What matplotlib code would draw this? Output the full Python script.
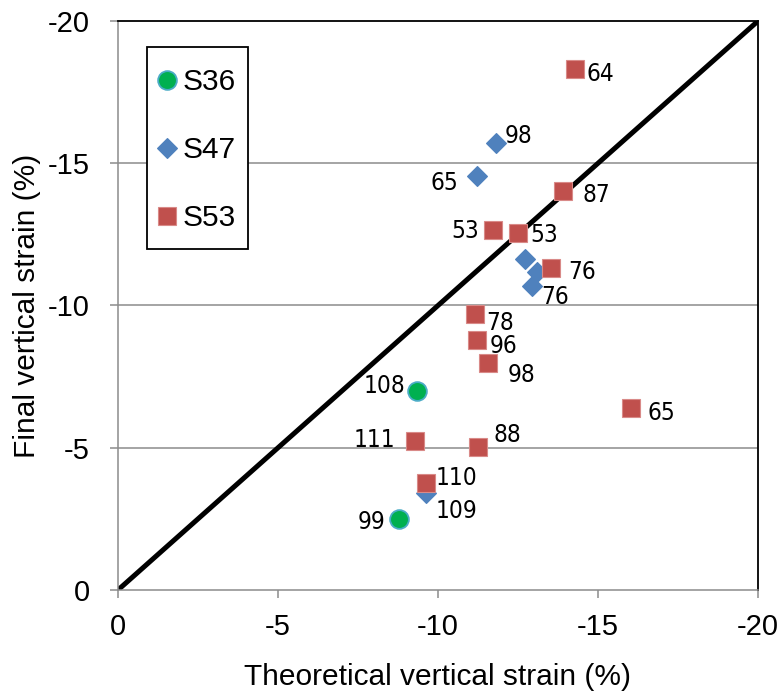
import matplotlib
matplotlib.use('Agg')
import matplotlib.pyplot as plt
from matplotlib.patches import Rectangle

plt.rcParams['font.family'] = ['Liberation Sans', 'DejaVu Sans']

# S36 samples
s36_x = [-9.33, -8.78]
s36_y = [-7.01, -2.48]
s36_lab = ['108', '99']

# S47 samples
s47_x = [-11.80, -11.21, -12.72, -13.08, -12.94, -9.62]
s47_y = [-15.72, -14.55, -11.62, -11.19, -10.69, -3.40]
s47_lab = ['98', '65', '', '', '76', '109']

# S53 samples
s53_x = [-14.28, -13.90, -11.73, -12.51, -13.52, -11.16, -11.21, -11.57, -16.03, -9.28, -11.26, -9.62]
s53_y = [-18.31, -14.04, -12.65, -12.56, -11.31, -9.70, -8.79, -7.99, -6.41, -5.24, -5.04, -3.77]
s53_lab = ['64', '87', '53', '53', '76', '78', '96', '98', '65', '111', '88', '110']

ticks = [0, -5, -10, -15, -20]

# label offsets in pixels (dx right, dy down) from marker to label centre
s36_off = [(-32, -6), (-27, 1)]
s47_off = [(23, -8), (-32, 5), (0, 0), (0, 0), (23, 9), (31, 16)]
s53_off = [(25, 3), (34, 3), (-28, -1), (26, 1), (31, 2), (25, 7), (27, 4), (33, 11),
           (30, 4), (-41, -3), (29, -13), (31, -6)]

W, H = 784, 697
L, B, AW, AH = 118, 107, 640, 569

fig = plt.figure(figsize=(W / 100, H / 100), dpi=100)
ax = fig.add_axes([L / W, B / H, AW / W, AH / H])

ax.set_xlim(0, -20)
ax.set_ylim(0, -20)
ax.set_xticks(ticks)
ax.set_yticks(ticks)
ax.set_xticklabels([str(t) for t in ticks])
ax.set_yticklabels([str(t) for t in ticks])

for y in [-5, -10, -15]:
    ax.axhline(y, color='#8c8c8c', lw=1.1, zorder=1)

ax.plot([0, -20], [0, -20], color='black', lw=3.6, zorder=2, solid_capstyle='butt')

ax.plot(s36_x, s36_y, 'o', ms=13.5, mfc='#00B050', mec='#4BACC6', mew=1.3, ls='none', label='S36', zorder=3)
ax.plot(s47_x, s47_y, 'D', ms=9.8, mfc='#4F81BD', mec='#4F81BD', mew=0.8, ls='none', label='S47', zorder=3)
ax.plot(s53_x, s53_y, 's', ms=13.5, mfc='#C0504D', mec='#D98A88', mew=0.8, ls='none', label='S53', zorder=4)

def put_labels(xs, ys, labs, offs):
    for x, y, t, o in zip(xs, ys, labs, offs):
        if t:
            ax.annotate(t, (x, y), xytext=(o[0] * 0.72, -(o[1] + 8.7) * 0.72), textcoords='offset points',
                        ha='center', va='baseline', fontsize=17.5, family='DejaVu Sans',
                        fontstretch='condensed', zorder=5)

put_labels(s36_x, s36_y, s36_lab, s36_off)
put_labels(s47_x, s47_y, s47_lab, s47_off)
put_labels(s53_x, s53_y, s53_lab, s53_off)

for s in ['left', 'bottom']:
    ax.spines[s].set_color('#8c8c8c')
    ax.spines[s].set_linewidth(1.1)
for s in ['top', 'right']:
    ax.spines[s].set_color('black')
    ax.spines[s].set_linewidth(1.3)

ax.tick_params(axis='both', direction='out', length=6, width=1.1, color='#8c8c8c', labelsize=21)
ax.tick_params(axis='y', pad=14.5)
ax.tick_params(axis='x', pad=10.5)

ax.set_xlabel('Theoretical vertical strain (%)', fontsize=21.5)
ax.set_ylabel('Final vertical strain (%)', fontsize=21.5)
ax.xaxis.set_label_coords(0.5, (590 - 663) / AH)
ax.yaxis.set_label_coords((41 - L) / AW, 0.5)

# legend frame drawn separately so the box matches the original spacing
ax.add_patch(Rectangle(((147 - L) / AW, (590 - 249) / AH), (248 - 147) / AW, (249 - 47) / AH,
                       transform=ax.transAxes, fill=True, facecolor='white', edgecolor='black',
                       lw=1.3, zorder=6))
leg = ax.legend(loc='upper left', bbox_to_anchor=((160 - L) / AW, (590 - 68) / AH), fontsize=21.5,
                frameon=False, borderpad=0, labelspacing=1.34, handlelength=0.5,
                handletextpad=0.26, borderaxespad=0)
leg.set_zorder(7)

fig.savefig('out.png', dpi=100)
